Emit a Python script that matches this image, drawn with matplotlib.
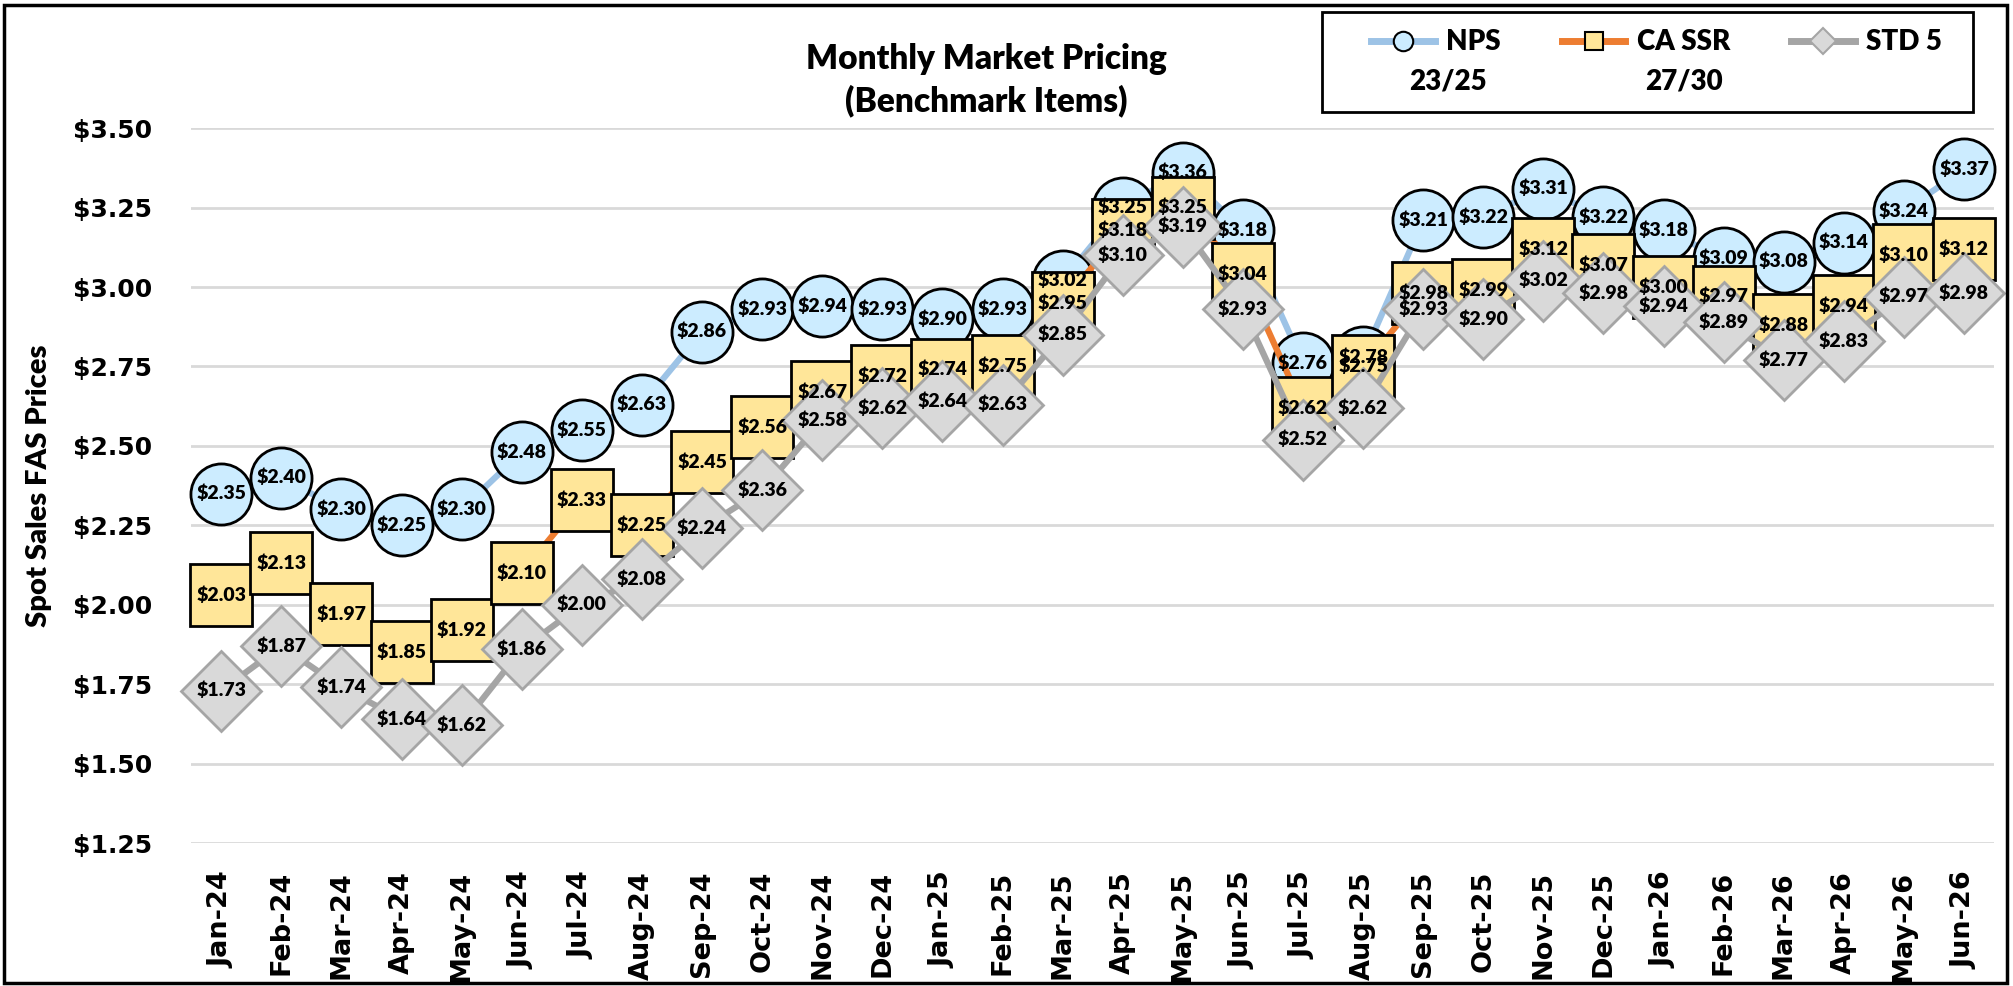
import matplotlib
matplotlib.use('agg')
from matplotlib import pyplot as plt
from matplotlib.lines import Line2D
from matplotlib.patches import Rectangle
import numpy as np

months = ['Jan-24', 'Feb-24', 'Mar-24', 'Apr-24', 'May-24', 'Jun-24', 'Jul-24', 'Aug-24',
          'Sep-24', 'Oct-24', 'Nov-24', 'Dec-24', 'Jan-25', 'Feb-25', 'Mar-25', 'Apr-25',
          'May-25', 'Jun-25', 'Jul-25', 'Aug-25', 'Sep-25', 'Oct-25', 'Nov-25', 'Dec-25',
          'Jan-26', 'Feb-26', 'Mar-26', 'Apr-26', 'May-26', 'Jun-26']

nps = [2.35, 2.40, 2.30, 2.25, 2.30, 2.48, 2.55, 2.63, 2.86, 2.93, 2.94, 2.93, 2.90, 2.93, 3.02,
       3.25, 3.36, 3.18, 2.76, 2.78, 3.21, 3.22, 3.31, 3.22, 3.18, 3.09, 3.08, 3.14, 3.24, 3.37]
ca_ssr = [2.03, 2.13, 1.97, 1.85, 1.92, 2.10, 2.33, 2.25, 2.45, 2.56, 2.67, 2.72, 2.74, 2.75, 2.95,
          3.18, 3.25, 3.04, 2.62, 2.75, 2.98, 2.99, 3.12, 3.07, 3.00, 2.97, 2.88, 2.94, 3.10, 3.12]
std5 = [1.73, 1.87, 1.74, 1.64, 1.62, 1.86, 2.00, 2.08, 2.24, 2.36, 2.58, 2.62, 2.64, 2.63, 2.85,
        3.10, 3.19, 2.93, 2.52, 2.62, 2.93, 2.90, 3.02, 2.98, 2.94, 2.89, 2.77, 2.83, 2.97, 2.98]

y_ticks = [1.25, 1.50, 1.75, 2.00, 2.25, 2.50, 2.75, 3.00, 3.25, 3.50]

# calibri-ish
cal = ['Lato', 'DejaVu Sans']

fig = plt.figure(figsize=(20.13, 9.86), dpi=100)
ax = fig.add_axes([0.095, 0.145, 0.8956, 0.725])

x = np.arange(len(months))

# series: line + markers drawn together, one over the other
ax.plot(x, nps, color='#9DC3E6', lw=4.5, marker='o', ms=44, mfc='#CCECFF', mec='black',
        mew=2, zorder=3, clip_on=False)
ax.plot(x, ca_ssr, color='#ED7D31', lw=4.5, marker='s', ms=44, mfc='#FFE699', mec='black',
        mew=2, zorder=4, clip_on=False)
ax.plot(x, std5, color='#A5A5A5', lw=4.5, marker='D', ms=41, mfc='#D9D9D9', mec='#A5A5A5',
        mew=2, zorder=5, clip_on=False)

for vals in (nps, ca_ssr, std5):
    for i, v in enumerate(vals):
        ax.text(x[i], v, '${:.2f}'.format(v), ha='center', va='center', fontsize=14,
                fontweight='heavy', family=cal, zorder=10, clip_on=False)

ax.set_xlim(-0.5, len(months) - 0.5)
ax.set_ylim(1.25, 3.5)
ax.set_yticks(y_ticks)
ax.set_yticklabels(['${:.2f}'.format(t) for t in y_ticks], fontsize=18, fontweight='bold')
ax.set_xticks(x)
ax.set_xticklabels(months, rotation=90, fontsize=19.5, fontweight='bold')
ax.tick_params(axis='both', length=0)
ax.tick_params(axis='y', pad=28)
ax.tick_params(axis='x', pad=20)
ax.grid(axis='y', color='#D9D9D9', lw=2, zorder=0)
ax.set_axisbelow(True)
for s in ax.spines.values():
    s.set_visible(False)

ax.set_ylabel('Spot Sales FAS Prices', fontsize=21, fontweight='heavy', family=cal)
ax.yaxis.set_label_coords(-0.077, 0.5)

fig.text(0.49, 0.94, 'Monthly Market Pricing', ha='center', va='center', fontsize=24,
         fontweight='heavy', family=cal)
fig.text(0.49, 0.898, '(Benchmark Items)', ha='center', va='center', fontsize=24,
         fontweight='heavy', family=cal)

# legend
handles = [Line2D([], [], color='#9DC3E6', lw=5, marker='o', ms=14, mfc='#CCECFF', mec='black', mew=1.5),
           Line2D([], [], color='#ED7D31', lw=5, marker='s', ms=13, mfc='#FFE699', mec='black', mew=1.5),
           Line2D([], [], color='#A5A5A5', lw=5, marker='D', ms=13, mfc='#D9D9D9', mec='#A5A5A5', mew=1.5)]
leg = fig.legend(handles, ['NPS', 'CA SSR', 'STD 5'], ncol=3, loc='center left',
                 bbox_to_anchor=(0.681, 0.957), borderpad=0, borderaxespad=0,
                 prop={'family': cal, 'weight': 'heavy', 'size': 20},
                 frameon=False, handlelength=2.3, handletextpad=0.4, columnspacing=2.2)
fig.text(0.7195, 0.917, '23/25', ha='center', va='center', fontsize=20, fontweight='heavy', family=cal)
fig.text(0.8366, 0.917, '27/30', ha='center', va='center', fontsize=20, fontweight='heavy', family=cal)
fig.add_artist(Rectangle((0.6567, 0.8864), 0.3234, 0.1014, transform=fig.transFigure,
                         fill=False, edgecolor='black', lw=2))

fig.add_artist(Rectangle((0.002, 0.003), 0.995, 0.992, transform=fig.transFigure,
                         fill=False, edgecolor='black', lw=2.5))

fig.savefig('out.png', dpi=100)
